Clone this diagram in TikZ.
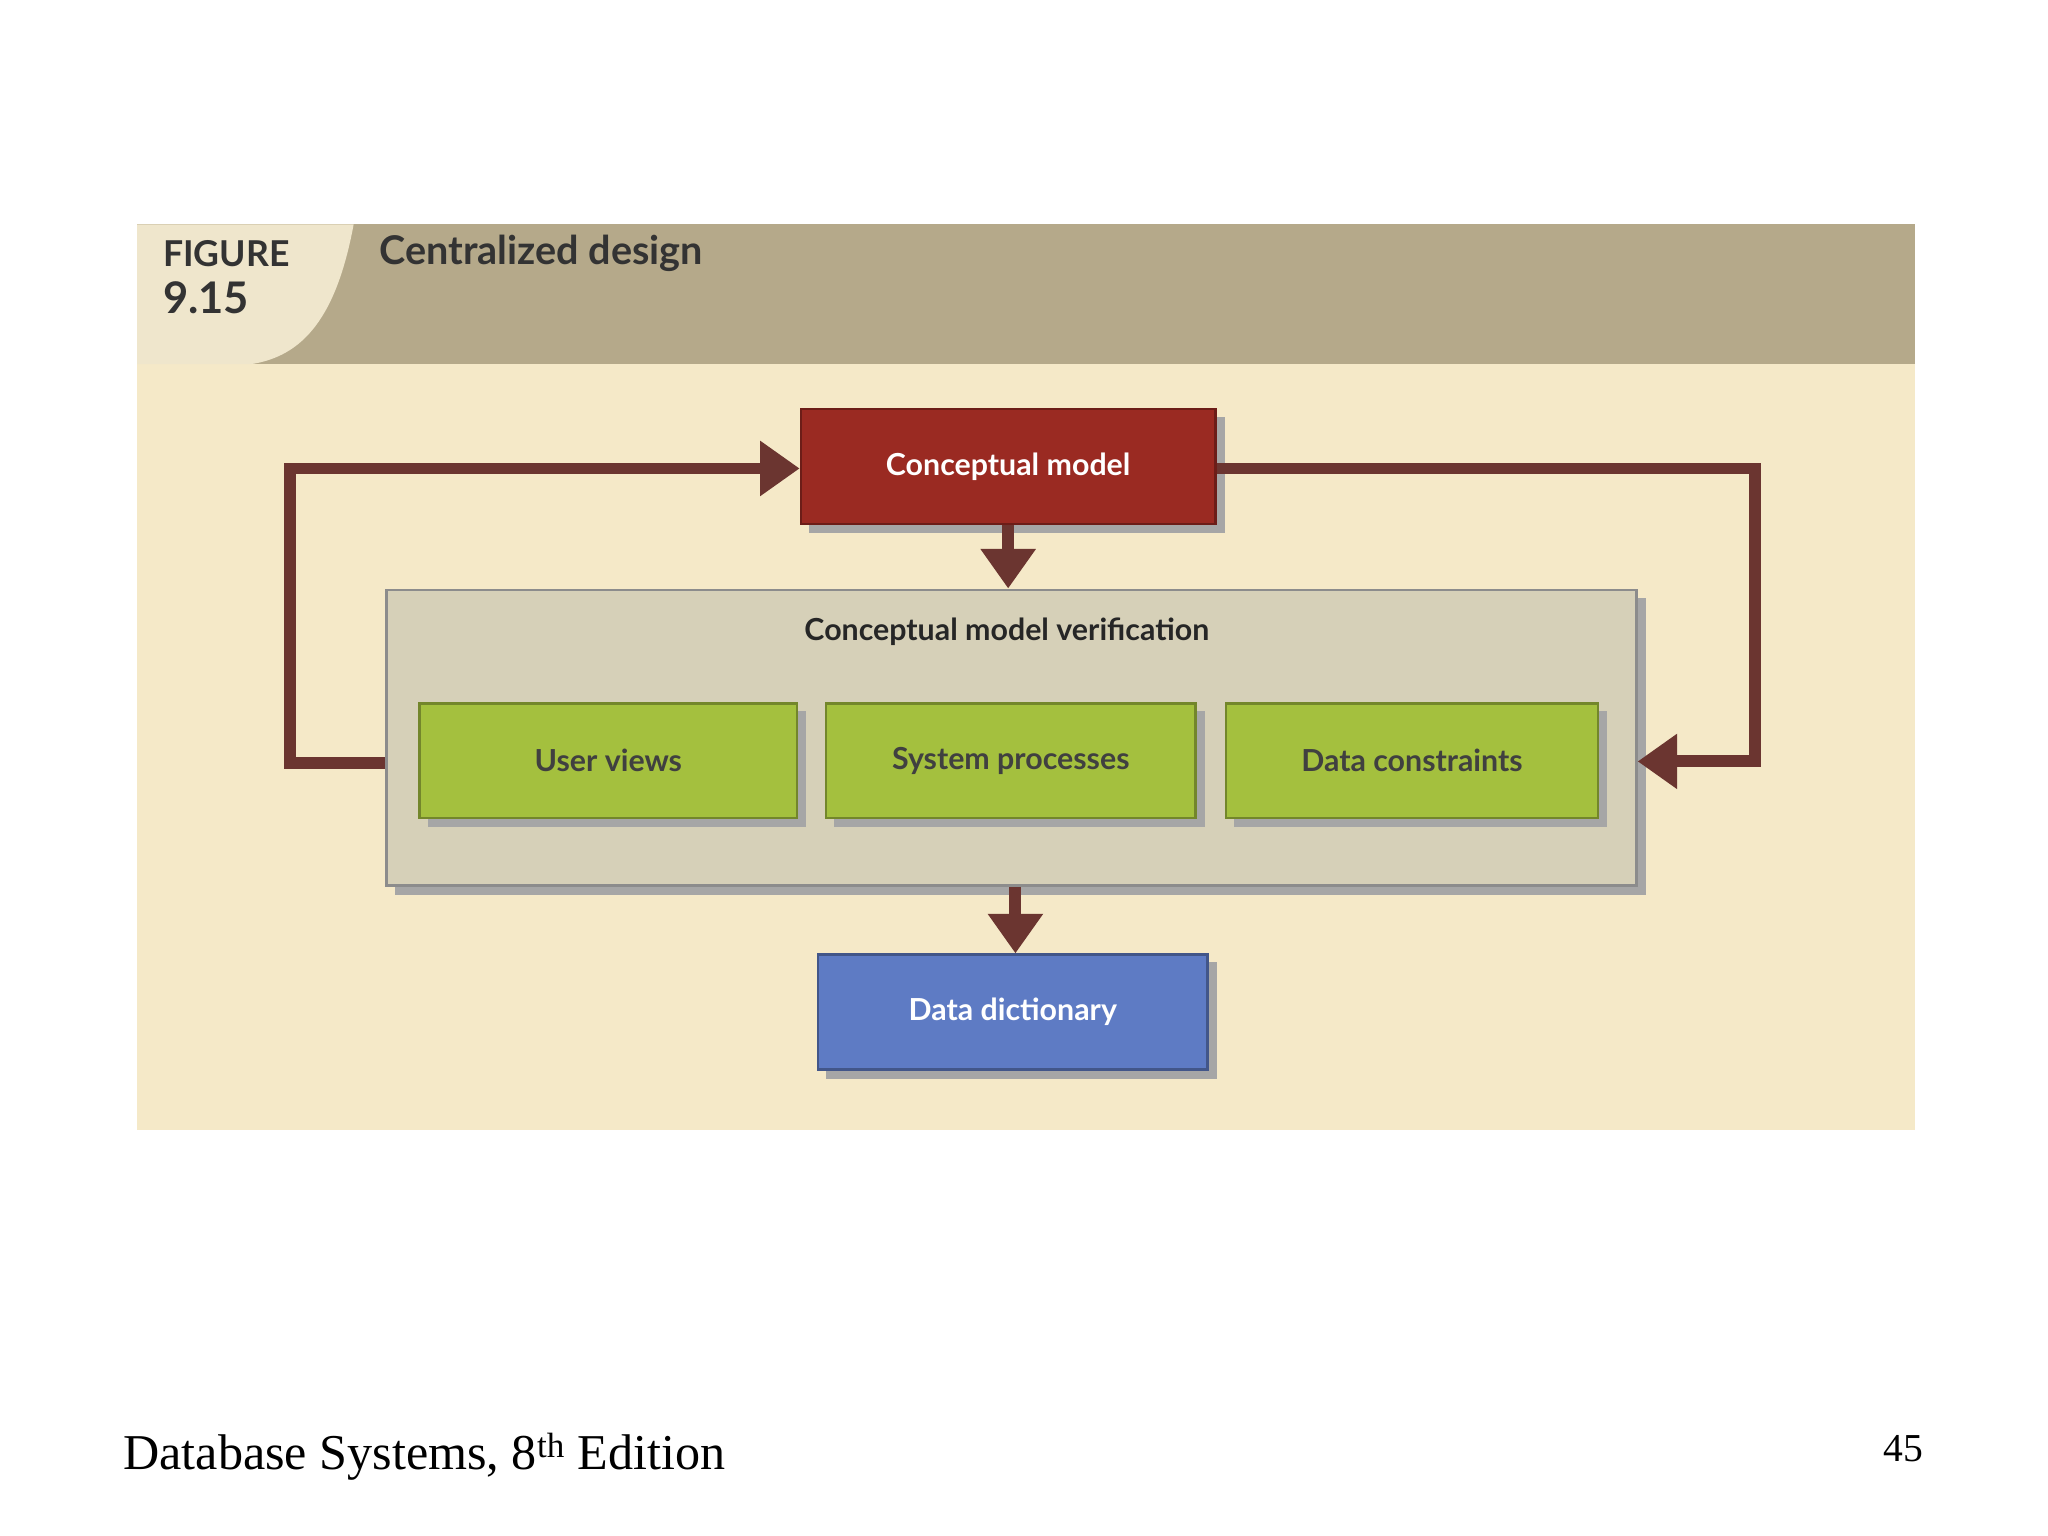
\documentclass[tikz,border=0pt]{standalone}
\usepackage{fontspec}
\setmainfont{Liberation Serif}
\newfontfamily\figfont{Lato}
\usetikzlibrary{arrows.meta}
\definecolor{panel}{HTML}{F5E9C8}
\definecolor{band}{HTML}{B5A98A}
\definecolor{tab}{HTML}{EFE6CC}
\definecolor{redbox}{HTML}{9A2A22}
\definecolor{verif}{HTML}{D6D0B8}
\definecolor{greenbox}{HTML}{A4C03E}
\definecolor{bluebox}{HTML}{5E7BC4}
\definecolor{arr}{HTML}{6B3530}
\begin{document}
\begin{tikzpicture}[x=1pt,y=-1pt,
  box/.style={draw=#1!70!black,line width=2pt,fill=#1,minimum height=87pt,inner sep=0pt,
     font=\figfont\bfseries\fontsize{23}{26}\selectfont},
  shade/.style={fill=black!35,draw=none},
  conn/.style={draw=arr,line width=9pt},
  tip/.style={-{Triangle[length=30pt,width=40pt]}}]
\useasboundingbox (0,0) rectangle (1552,1164);
\fill[white] (0,0) rectangle (1552,1164);
% panel
\fill[panel] (104,170) rectangle (1451,856);
\fill[band] (104,170) rectangle (1451,276);
\fill[tab] (104,170) -- (268,170) .. controls (255,240) and (230,270) .. (190,276) -- (104,276) -- cycle;
\node[anchor=west,font=\figfont\bfseries\fontsize{27}{30}\selectfont,text=black!80] (fig) at (120,192) {FIGURE};
\node[anchor=west,font=\figfont\bfseries\fontsize{33}{36}\selectfont,text=black!80] (num) at (120,226) {9.15};
\node[anchor=west,font=\figfont\bfseries\fontsize{30}{34}\selectfont,text=black!80] (title) at (284,192) {Centralized design};
% shadows
\fill[shade] (613,316) rectangle (928,404);
\fill[shade] (299,453) rectangle (1247,678);
\fill[shade] (626,729) rectangle (922,818);
% verification
\node[draw=black!45,line width=2pt,fill=verif,minimum width=947pt,minimum height=224pt,inner sep=0pt] (ver) at (766.5,559) {};
\node[font=\figfont\bfseries\fontsize{23}{26}\selectfont,text=black!85] (vlab) at (763,479) {Conceptual model verification};
\fill[shade] (324,539) rectangle (611,627);
\fill[shade] (632,539) rectangle (913,627);
\fill[shade] (935,539) rectangle (1218,627);
\node[box=greenbox,minimum width=286pt,text=black!75] (uv) at (461,576.5) {User views};
\node[box=greenbox,minimum width=280pt,text=black!75] (sp) at (766,576.5) {System processes};
\node[box=greenbox,minimum width=282pt,text=black!75] (dc) at (1070,576.5) {Data constraints};
\node[box=redbox,minimum width=314pt,text=white] (cm) at (764,353.5) {Conceptual model};
\node[box=bluebox,minimum width=295pt,text=white] (dd) at (767.5,767) {Data dictionary};
% connectors
\coordinate (l1) at (220,578);
\coordinate (l2) at (220,355);
\coordinate (r1) at (1330,355);
\coordinate (r2) at (1330,577);
\draw[conn,tip] (ver.west |- l1) -- (l1) -- (l2) -- (cm.west |- l2);
\draw[conn,tip] (cm.east |- r1) -- (r1) -- (r2) -- (ver.east |- r2);
\draw[conn,tip] (cm.south) -- (cm.south |- ver.north);
\draw[conn,tip] (ver.south -| dd.north) ++(2,0) -- ([xshift=2pt]dd.north);
% footer
\node[anchor=west,font=\fontsize{38}{42}\selectfont] (foot) at (90,1104) {Database Systems, 8\textsuperscript{th} Edition};
\node[anchor=east,font=\fontsize{30}{34}\selectfont] (page) at (1461,1098) {45};
\end{tikzpicture}
\end{document}
